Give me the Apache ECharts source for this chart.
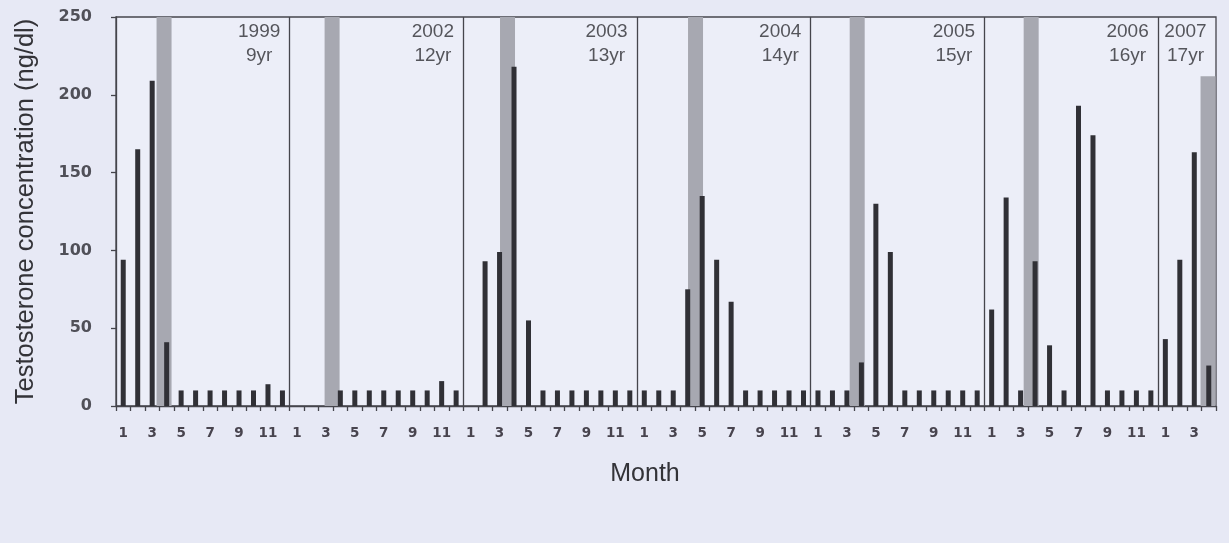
<!DOCTYPE html>
<html>
<head>
<meta charset="utf-8">
<script src="https://cdn.jsdelivr.net/npm/echarts@6/dist/echarts.min.js"></script>
<style>
  html, body { margin: 0; padding: 0; background: #e7e9f5; }
  #chart { width: 1229px; height: 543px; }
</style>
</head>
<body>
<div id="chart"></div>
<script>
  // 每年的月份数据 (ng/dl)
  var years = ['1999', '2002', '2003', '2004', '2005', '2006', '2007'];
  var ages = ['9yr', '12yr', '13yr', '14yr', '15yr', '16yr', '17yr'];
  var monthsPerYear = [12, 12, 12, 12, 12, 12, 4];

  var t1999 = [94, 165, 209, 41, 10, 10, 10, 10, 10, 10, 14, 10];
  var t2002 = [null, null, null, 10, 10, 10, 10, 10, 10, 10, 16, 10];
  var t2003 = [null, 93, 99, 218, 55, 10, 10, 10, 10, 10, 10, 10];
  var t2004 = [10, 10, 10, 75, 135, 94, 67, 10, 10, 10, 10, 10];
  var t2005 = [10, 10, 10, 28, 130, 99, 10, 10, 10, 10, 10, 10];
  var t2006 = [62, 134, 10, 93, 39, 10, 193, 174, 10, 10, 10, 10];
  var t2007 = [43, 94, 163, 26];

  // 灰色带的位置 (按月份计数, 从 0 开始) 和高度
  var bandPos = [3.32, 14.93, 27.05, 40.04, 51.21, 63.23, 75.45];
  var bandTop = [250, 250, 250, 250, 250, 250, 212];

  var yTicks = [0, 50, 100, 150, 200, 250];

  var values = [].concat(t1999, t2002, t2003, t2004, t2005, t2006, t2007);
  var months = [];
  var yearEnds = [];
  var total = 0;
  monthsPerYear.forEach(function (n) {
    for (var m = 1; m <= n; m++) months.push(String(m));
    total += n;
    yearEnds.push(total);
  });

  var myChart = echarts.init(document.getElementById('chart'));

  myChart.setOption({
    backgroundColor: '#e7e9f5',
    animation: false,
    grid: {
      left: 116,
      right: 13,
      top: 17,
      bottom: 137,
      show: true,
      backgroundColor: '#eceef8',
      borderColor: '#45454c',
      borderWidth: 1.3
    },
    xAxis: [{
      type: 'category',
      data: months,
      boundaryGap: true,
      name: 'Month',
      nameLocation: 'middle',
      nameGap: 56,
      nameTextStyle: {fontFamily: 'Liberation Sans', fontSize: 25, color: '#333338', padding: [0, 42, 0, 0]},
      axisLine: {lineStyle: {color: '#45454c', width: 1.3}},
      axisTick: {show: true, interval: 0, length: 5, lineStyle: {color: '#45454c', width: 1.3}},
      axisLabel: {
        interval: 1,
        margin: 20,
        fontFamily: 'DejaVu Sans',
        fontWeight: 'bold',
        fontSize: 13.5,
        color: '#48444e'
      },
      splitLine: {show: false}
    }, {
      // 隐藏的数值轴, 用来放灰色带、年份分隔线和年份文字
      type: 'value',
      min: 0,
      max: total,
      show: false
    }],
    yAxis: {
      type: 'value',
      min: 0,
      max: 250,
      interval: 50,
      name: 'Testosterone concentration (ng/dl)',
      nameLocation: 'middle',
      nameGap: 77,
      nameTextStyle: {fontFamily: 'Liberation Sans', fontSize: 25.5, color: '#333338'},
      axisLine: {show: true, lineStyle: {color: '#45454c', width: 1.3}},
      axisTick: {show: true, length: 5, lineStyle: {color: '#45454c', width: 1.3}},
      axisLabel: {
        margin: 24,
        fontFamily: 'DejaVu Sans',
        fontWeight: 'bold',
        fontSize: 16,
        color: '#505058',
        formatter: function (v) { return yTicks.indexOf(v) >= 0 ? String(v) : ''; }
      },
      splitLine: {show: false}
    },
    series: [{
      name: 'band',
      type: 'bar',
      xAxisIndex: 1,
      barWidth: 15,
      itemStyle: {color: '#a7a8b1'},
      data: bandPos.map(function (p, i) { return [p, bandTop[i]]; }),
      z: 1,
      markLine: {
        silent: true,
        symbol: 'none',
        label: {show: false},
        lineStyle: {color: '#45454c', width: 1.3, type: 'solid'},
        data: yearEnds.slice(0, yearEnds.length - 1).map(function (e) { return {xAxis: e}; })
      }
    }, {
      name: 'testosterone',
      type: 'bar',
      xAxisIndex: 0,
      barWidth: 5,
      itemStyle: {color: '#303036'},
      data: values,
      z: 3
    }, {
      name: 'yearLabel',
      type: 'scatter',
      xAxisIndex: 1,
      symbolSize: 1,
      itemStyle: {color: 'transparent'},
      data: yearEnds.map(function (e) { return [e, 250]; }),
      label: {
        show: true,
        position: [-30, 3],
        align: 'center',
        verticalAlign: 'top',
        fontFamily: 'Liberation Sans',
        fontSize: 19,
        lineHeight: 24,
        color: '#2e2e33',
        formatter: function (p) { return years[p.dataIndex] + '\n' + ages[p.dataIndex]; }
      },
      z: 5
    }]
  });
</script>
</body>
</html>
